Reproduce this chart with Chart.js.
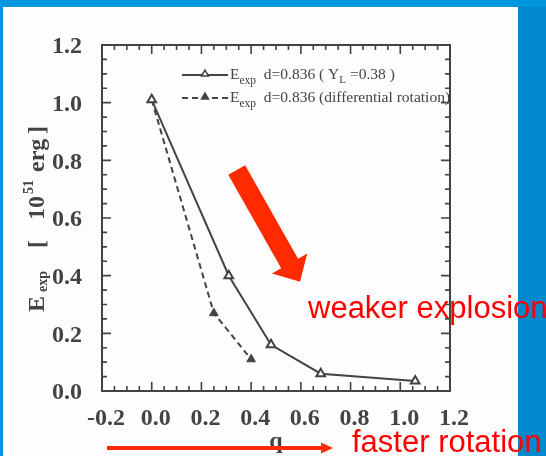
<!DOCTYPE html>
<html>
<head>
<meta charset="utf-8">
<script src="https://cdn.jsdelivr.net/npm/chart.js@4.4.1/dist/chart.umd.min.js"></script>
<style>
  html, body { margin: 0; padding: 0; background: #0096de; }
  canvas { display: block; }
</style>
</head>
<body>
<canvas id="expChart" width="546" height="456"></canvas>
<script>
// Explosion energy vs. rotation parameter, d = 0.836
const qUniform = [0.0, 0.31, 0.48, 0.68, 1.06];
const eUniform = [1.01, 0.40, 0.16, 0.06, 0.035];
const qDiff = [0.0, 0.25, 0.40];
const eDiff = [1.01, 0.27, 0.11];

const xTicks = [-0.2, 0.0, 0.2, 0.4, 0.6, 0.8, 1.0, 1.2];
const yTicks = [0.0, 0.2, 0.4, 0.6, 0.8, 1.0, 1.2];
const minorStep = 0.05;

const ink = '#434343';
const serif = '"Liberation Serif", "DejaVu Serif", serif';
const sans = '"Liberation Sans", Arial, sans-serif';
const arrowRed = '#ff2a00';
const textRed = '#ff0000';

function toPoints(xs, ys) {
  return xs.map((x, i) => ({ x: x, y: ys[i] }));
}

function triangle(ctx, x, y, r, filled) {
  ctx.beginPath();
  for (let k = 0; k < 3; k++) {
    const a = -Math.PI / 2 + k * 2 * Math.PI / 3;
    const px = x + r * Math.cos(a), py = y + r * Math.sin(a);
    if (k === 0) ctx.moveTo(px, py); else ctx.lineTo(px, py);
  }
  ctx.closePath();
  if (filled) ctx.fill();
  ctx.stroke();
}

// runs of text with sub/superscript pieces: [text, size, shift]
function runText(ctx, x, y, parts) {
  for (const [t, size, dy] of parts) {
    ctx.font = size + 'px ' + serif;
    ctx.fillText(t, x, y + dy);
    x += ctx.measureText(t).width;
  }
  return x;
}

const slideBackground = {
  id: 'slideBackground',
  beforeDraw(chart) {
    const ctx = chart.ctx;
    ctx.save();
    ctx.fillStyle = '#0096de';
    ctx.fillRect(0, 0, chart.width, chart.height);
    ctx.fillStyle = '#0089cf';
    ctx.fillRect(518, 7, chart.width - 518, chart.height - 7);
    ctx.fillStyle = '#fdfdfd';
    ctx.fillRect(3, 7, 515, chart.height - 7);
    ctx.restore();
  }
};

// box frame with inward ticks on all four sides
const frameTicks = {
  id: 'frameTicks',
  beforeDatasetsDraw(chart) {
    const { ctx, chartArea: a, scales: { x, y } } = chart;
    ctx.save();
    ctx.strokeStyle = ink;
    ctx.lineWidth = 2;
    ctx.strokeRect(a.left, a.top, a.right - a.left, a.bottom - a.top);
    ctx.lineWidth = 1.6;
    ctx.beginPath();
    const nx = Math.round((x.max - x.min) / minorStep);
    for (let i = 0; i <= nx; i++) {
      const px = x.getPixelForValue(x.min + i * minorStep);
      const len = i % 4 === 0 ? 9 : 5;
      ctx.moveTo(px, a.bottom); ctx.lineTo(px, a.bottom - len);
      ctx.moveTo(px, a.top); ctx.lineTo(px, a.top + len);
    }
    const ny = Math.round((y.max - y.min) / minorStep);
    for (let i = 0; i <= ny; i++) {
      const py = y.getPixelForValue(y.min + i * minorStep);
      const len = i % 4 === 0 ? 9 : 5;
      ctx.moveTo(a.left, py); ctx.lineTo(a.left + len, py);
      ctx.moveTo(a.right, py); ctx.lineTo(a.right - len, py);
    }
    ctx.stroke();
    ctx.restore();
  }
};

const legendAndNotes = {
  id: 'legendAndNotes',
  afterDraw(chart) {
    const ctx = chart.ctx;
    const sets = chart.data.datasets;
    ctx.save();

    // legend
    const rows = [
      { ds: sets[0], y: 75, tail: [['  d=0.836 ( Y', 15.5, 0], ['L', 11, 4], [' =0.38 )', 15.5, 0]] },
      { ds: sets[1], y: 98, tail: [['  d=0.836 (differential rotation)', 15.5, 0]] }
    ];
    for (const r of rows) {
      ctx.strokeStyle = r.ds.borderColor;
      ctx.lineWidth = 1.8;
      ctx.setLineDash(r.ds.borderDash || []);
      ctx.beginPath(); ctx.moveTo(182, r.y); ctx.lineTo(228, r.y); ctx.stroke();
      ctx.setLineDash([]);
      ctx.fillStyle = r.ds.pointBackgroundColor;
      ctx.lineWidth = 1.5;
      triangle(ctx, 205, r.y - 1, 4, true);
      ctx.fillStyle = ink;
      ctx.textBaseline = 'alphabetic';
      runText(ctx, 230, r.y + 4, [['E', 15.5, 0], ['exp', 11.5, 5]].concat(r.tail));
    }

    // y axis title, rotated
    ctx.save();
    ctx.translate(44, 312);
    ctx.rotate(-Math.PI / 2);
    ctx.fillStyle = ink;
    const yt = [['E', 0, 24, 0], ['exp', 20, 14, 3], ['[', 64, 24, 0], ['10', 92, 24, 0],
                ['51', 118, 14, -11], ['erg', 140, 24, 0], [']', 178, 24, 0]];
    for (const [t, off, size, dy] of yt) {
      ctx.font = 'bold ' + size + 'px ' + serif;
      ctx.fillText(t, off, dy);
    }
    ctx.restore();

    // big diagonal arrow
    const tail = [236.7, 170], tip = [300, 281.7];
    const dx = tip[0] - tail[0], dy = tip[1] - tail[1];
    const L = Math.hypot(dx, dy), ux = dx / L, uy = dy / L, vx = -uy, vy = ux;
    const sw = 9.7, hw = 20.3, hl = 21;
    const bx = tip[0] - ux * hl, by = tip[1] - uy * hl;
    ctx.fillStyle = arrowRed;
    ctx.beginPath();
    ctx.moveTo(tail[0] + vx * sw, tail[1] + vy * sw);
    ctx.lineTo(bx + vx * sw, by + vy * sw);
    ctx.lineTo(bx + vx * hw, by + vy * hw);
    ctx.lineTo(tip[0], tip[1]);
    ctx.lineTo(bx - vx * hw, by - vy * hw);
    ctx.lineTo(bx - vx * sw, by - vy * sw);
    ctx.lineTo(tail[0] - vx * sw, tail[1] - vy * sw);
    ctx.closePath();
    ctx.fill();

    // horizontal arrow under the axis
    ctx.fillRect(107, 446, 215, 4);
    ctx.beginPath();
    ctx.moveTo(321, 442.5); ctx.lineTo(333, 448); ctx.lineTo(321, 453.5);
    ctx.closePath();
    ctx.fill();

    ctx.fillStyle = textRed;
    ctx.font = '31px ' + sans;
    ctx.fillText('weaker explosion', 308, 318);
    ctx.fillText('faster rotation', 352, 452);
    ctx.restore();
  }
};

const tickFont = { family: serif, size: 24, weight: 'bold' };

new Chart(document.getElementById('expChart'), {
  type: 'scatter',
  data: {
    datasets: [
      {
        label: 'E_exp d=0.836 (Y_L=0.38)',
        data: toPoints(qUniform, eUniform),
        showLine: true,
        borderColor: ink,
        borderWidth: 2,
        pointStyle: 'triangle',
        pointRadius: 5,
        pointBackgroundColor: '#ffffff',
        pointBorderColor: ink,
        pointBorderWidth: 2
      },
      {
        label: 'E_exp d=0.836 (differential rotation)',
        data: toPoints(qDiff, eDiff),
        showLine: true,
        borderColor: ink,
        borderWidth: 2,
        borderDash: [6, 4],
        pointStyle: 'triangle',
        pointRadius: 5,
        pointBackgroundColor: ink,
        pointBorderColor: ink,
        pointBorderWidth: 1
      }
    ]
  },
  options: {
    responsive: false,
    animation: false,
    devicePixelRatio: 1,
    layout: { padding: { left: 0, top: 45, right: 96, bottom: 0 } },
    plugins: { legend: { display: false }, tooltip: { enabled: false } },
    scales: {
      x: {
        type: 'linear',
        min: -0.2,
        max: 1.2,
        grid: { display: false },
        border: { display: false },
        afterBuildTicks: s => { s.ticks = xTicks.map(v => ({ value: v })); },
        afterFit: s => { s.height = 65; },
        ticks: {
          font: tickFont,
          color: ink,
          padding: 5,
          labelOffset: 4,
          autoSkip: false,
          maxRotation: 0,
          callback: v => v.toFixed(1)
        },
        title: {
          display: true,
          text: 'q',
          color: ink,
          font: { family: serif, size: 24, weight: 'bold' },
          padding: { top: 0, bottom: 0 }
        }
      },
      y: {
        type: 'linear',
        min: 0,
        max: 1.2,
        grid: { display: false },
        border: { display: false },
        afterBuildTicks: s => { s.ticks = yTicks.map(v => ({ value: v })); },
        afterFit: s => { s.width = 102; },
        ticks: {
          font: tickFont,
          color: ink,
          padding: 12,
          labelOffset: 2,
          callback: v => v.toFixed(1)
        }
      }
    }
  },
  plugins: [slideBackground, frameTicks, legendAndNotes]
});
</script>
</body>
</html>
